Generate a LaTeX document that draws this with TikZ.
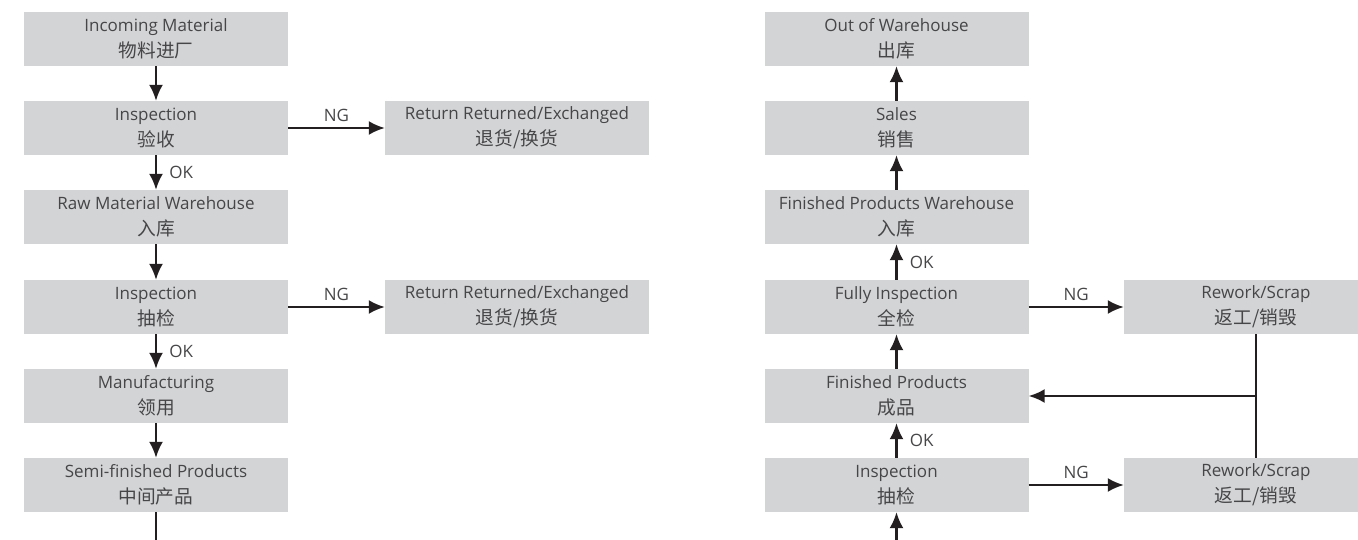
\documentclass[tikz,border=0pt]{standalone}
\usepackage{fontspec}
\setmainfont{Open Sans}
\newfontfamily\cjk[Scale=1.1]{Noto Sans CJK SC}
\usetikzlibrary{arrows.meta, positioning}
\definecolor{boxgray}{RGB}{211,212,214}
\definecolor{txtgray}{RGB}{70,70,72}
\definecolor{ink}{RGB}{35,31,32}

\begin{document}
\begin{tikzpicture}[x=1pt,y=-1pt]
	\tikzstyle{stage} = [rectangle,fill=boxgray,text=txtgray,minimum width=264pt,minimum height=54pt,inner sep=0pt,align=center,font=\fontsize{17}{26}\selectfont]
	\tikzstyle{sharp} = [-{Latex[length=16pt,width=14pt]},line width=2.2pt,draw=ink]
	\tikzstyle{tag} = [text=txtgray,font=\fontsize{17}{20}\selectfont]
	\useasboundingbox (0,0) rectangle (1358,540);
	\clip (0,0) rectangle (1358,540);
	% incoming side
	\node (inmat) [stage] at (156,39) {Incoming Material\\{\cjk 物料进厂}};
	\node (accept) [stage] at (156,128) {Inspection\\{\cjk 验收}};
	\node (rawwh) [stage] at (156,217) {Raw Material Warehouse\\{\cjk 入库}};
	\node (sample) [stage] at (156,307) {Inspection\\{\cjk 抽检}};
	\node (mfg) [stage] at (156,396) {Manufacturing\\{\cjk 领用}};
	\node (semi) [stage] at (156,485) {Semi-finished Products\\{\cjk 中间产品}};
	\node (retA) [stage] at (517,128) {Return Returned/Exchanged\\{\cjk 退货/换货}};
	\node (retB) [stage] at (517,307) {Return Returned/Exchanged\\{\cjk 退货/换货}};
	\coordinate (semiout) at (156,540);
	\draw[sharp] (inmat) -- (accept);
	\draw[sharp] (accept) -- node[tag, midway, right=9pt]{OK} (rawwh);
	\draw[sharp] (rawwh) -- (sample);
	\draw[sharp] (sample) -- node[tag, midway, right=9pt]{OK} (mfg);
	\draw[sharp] (mfg) -- (semi);
	\draw[sharp] (accept) -- node[tag, midway, above=2pt]{NG} (retA);
	\draw[sharp] (sample) -- node[tag, midway, above=2pt]{NG} (retB);
	\draw[line width=2.2pt,draw=ink] (semi) -- (semiout);
	% outgoing side
	\node (outwh) [stage] at (896.5,39) {Out of Warehouse\\{\cjk 出库}};
	\node (sales) [stage] at (896.5,128) {Sales\\{\cjk 销售}};
	\node (fpwh) [stage] at (896.5,217) {Finished Products Warehouse\\{\cjk 入库}};
	\node (fullchk) [stage] at (896.5,307) {Fully Inspection\\{\cjk 全检}};
	\node (finprod) [stage] at (896.5,396) {Finished Products\\{\cjk 成品}};
	\node (spot) [stage] at (896.5,485) {Inspection\\{\cjk 抽检}};
	\node (rwA) [stage] at (1256,307) {Rework/Scrap\\{\cjk 返工/销毁}};
	\node (rwB) [stage] at (1256,485) {Rework/Scrap\\{\cjk 返工/销毁}};
	\coordinate (spotin) at (896.5,540);
	\coordinate (joint) at (rwA |- finprod);
	\draw[sharp] (spotin) -- (spot);
	\draw[sharp] (spot) -- node[tag, midway, right=9pt]{OK} (finprod);
	\draw[sharp] (finprod) -- (fullchk);
	\draw[sharp] (fullchk) -- node[tag, midway, right=9pt]{OK} (fpwh);
	\draw[sharp] (fpwh) -- (sales);
	\draw[sharp] (sales) -- (outwh);
	\draw[sharp] (fullchk) -- node[tag, midway, above=2pt]{NG} (rwA);
	\draw[sharp] (spot) -- node[tag, midway, above=2pt]{NG} (rwB);
	\draw[line width=2.2pt,draw=ink] (rwA) -- (rwB);
	\draw[sharp] (joint) -- (finprod);
\end{tikzpicture}
\end{document}
